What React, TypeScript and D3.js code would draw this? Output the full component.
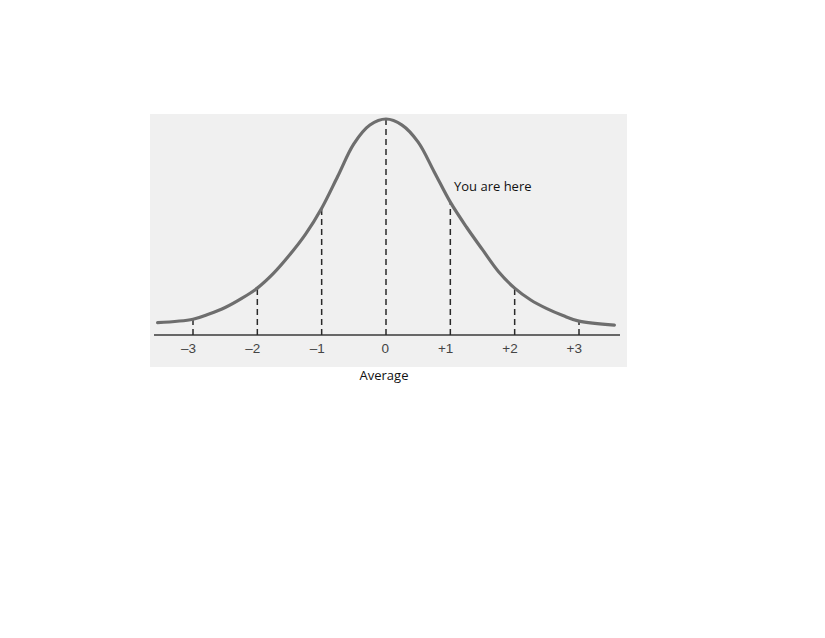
import React from "react";
import * as d3 from "d3";

// Curve: position in standard deviations, relative height (peak = 1)
const zValues = [-3.55, -3, -2.75, -2.5, -2.25, -2, -1.75, -1.5, -1.25, -1, -0.75, -0.5, -0.25, 0, 0.25, 0.5, 0.75, 1, 1.25, 1.5, 1.75, 2, 2.25, 2.5, 2.75, 3, 3.55];
const heightValues = [0.057, 0.073, 0.097, 0.127, 0.168, 0.217, 0.285, 0.37, 0.467, 0.587, 0.735, 0.885, 0.972, 1.0, 0.972, 0.893, 0.755, 0.615, 0.5, 0.395, 0.293, 0.217, 0.162, 0.122, 0.09, 0.064, 0.046];

const tickValues = [-3, -2, -1, 0, 1, 2, 3];
const tickLabels = ["–3", "–2", "–1", "0", "+1", "+2", "+3"];

const averageLabel = "Average";
const hereLabel = "You are here";

export default function App() {
  const W = 825;
  const H = 638;
  const x = d3.scaleLinear().domain([-3, 3]).range([193, 579]);
  const y = d3.scaleLinear().domain([0, 1]).range([335, 119]);

  const pts: [number, number][] = zValues.map((z, i) => [z, heightValues[i]]);
  const line = d3
    .line<[number, number]>()
    .x((d) => x(d[0]))
    .y((d) => y(d[1]))
    .curve(d3.curveCatmullRom.alpha(0.5));

  const heightAt = (z: number) => heightValues[zValues.indexOf(z)];

  return (
    <svg
      width={W}
      height={H}
      style={{ position: "absolute", left: 0, top: 0, background: "#fff" }}
    >
      <rect x={150} y={114} width={477} height={253} fill="#f0f0f0" />
      {/* axis */}
      <line x1={154} x2={620} y1={y(0)} y2={y(0)} stroke="#3a3a3a" strokeWidth={1.6} />
      {/* dashed verticals */}
      {tickValues.map((t) => (
        <line
          key={"d" + t}
          x1={x(t)}
          x2={x(t)}
          y1={y(0)}
          y2={y(heightAt(t))}
          stroke="#2a2a2a"
          strokeWidth={1.5}
          strokeDasharray="6,4"
        />
      ))}
      {/* curve */}
      <path d={line(pts) || ""} fill="none" stroke="#6e6e6e" strokeWidth={3.2} strokeLinecap="round" />
      {/* tick labels */}
      {tickValues.map((t, i) => (
        <text
          key={"t" + t}
          x={x(t) + 3}
          y={353}
          textAnchor="end"
          fontFamily="Liberation Sans, Arial, sans-serif"
          fontSize={13.5}
          fill="#444"
        >
          {tickLabels[i]}
        </text>
      ))}
      <text
        x={384}
        y={380}
        textAnchor="middle"
        fontFamily="Open Sans, sans-serif"
        fontSize={13}
        fill="#111"
      >
        {averageLabel}
      </text>
      <text
        x={454}
        y={191}
        fontFamily="Open Sans, sans-serif"
        fontSize={13}
        fill="#111"
      >
        {hereLabel}
      </text>
    </svg>
  );
}
